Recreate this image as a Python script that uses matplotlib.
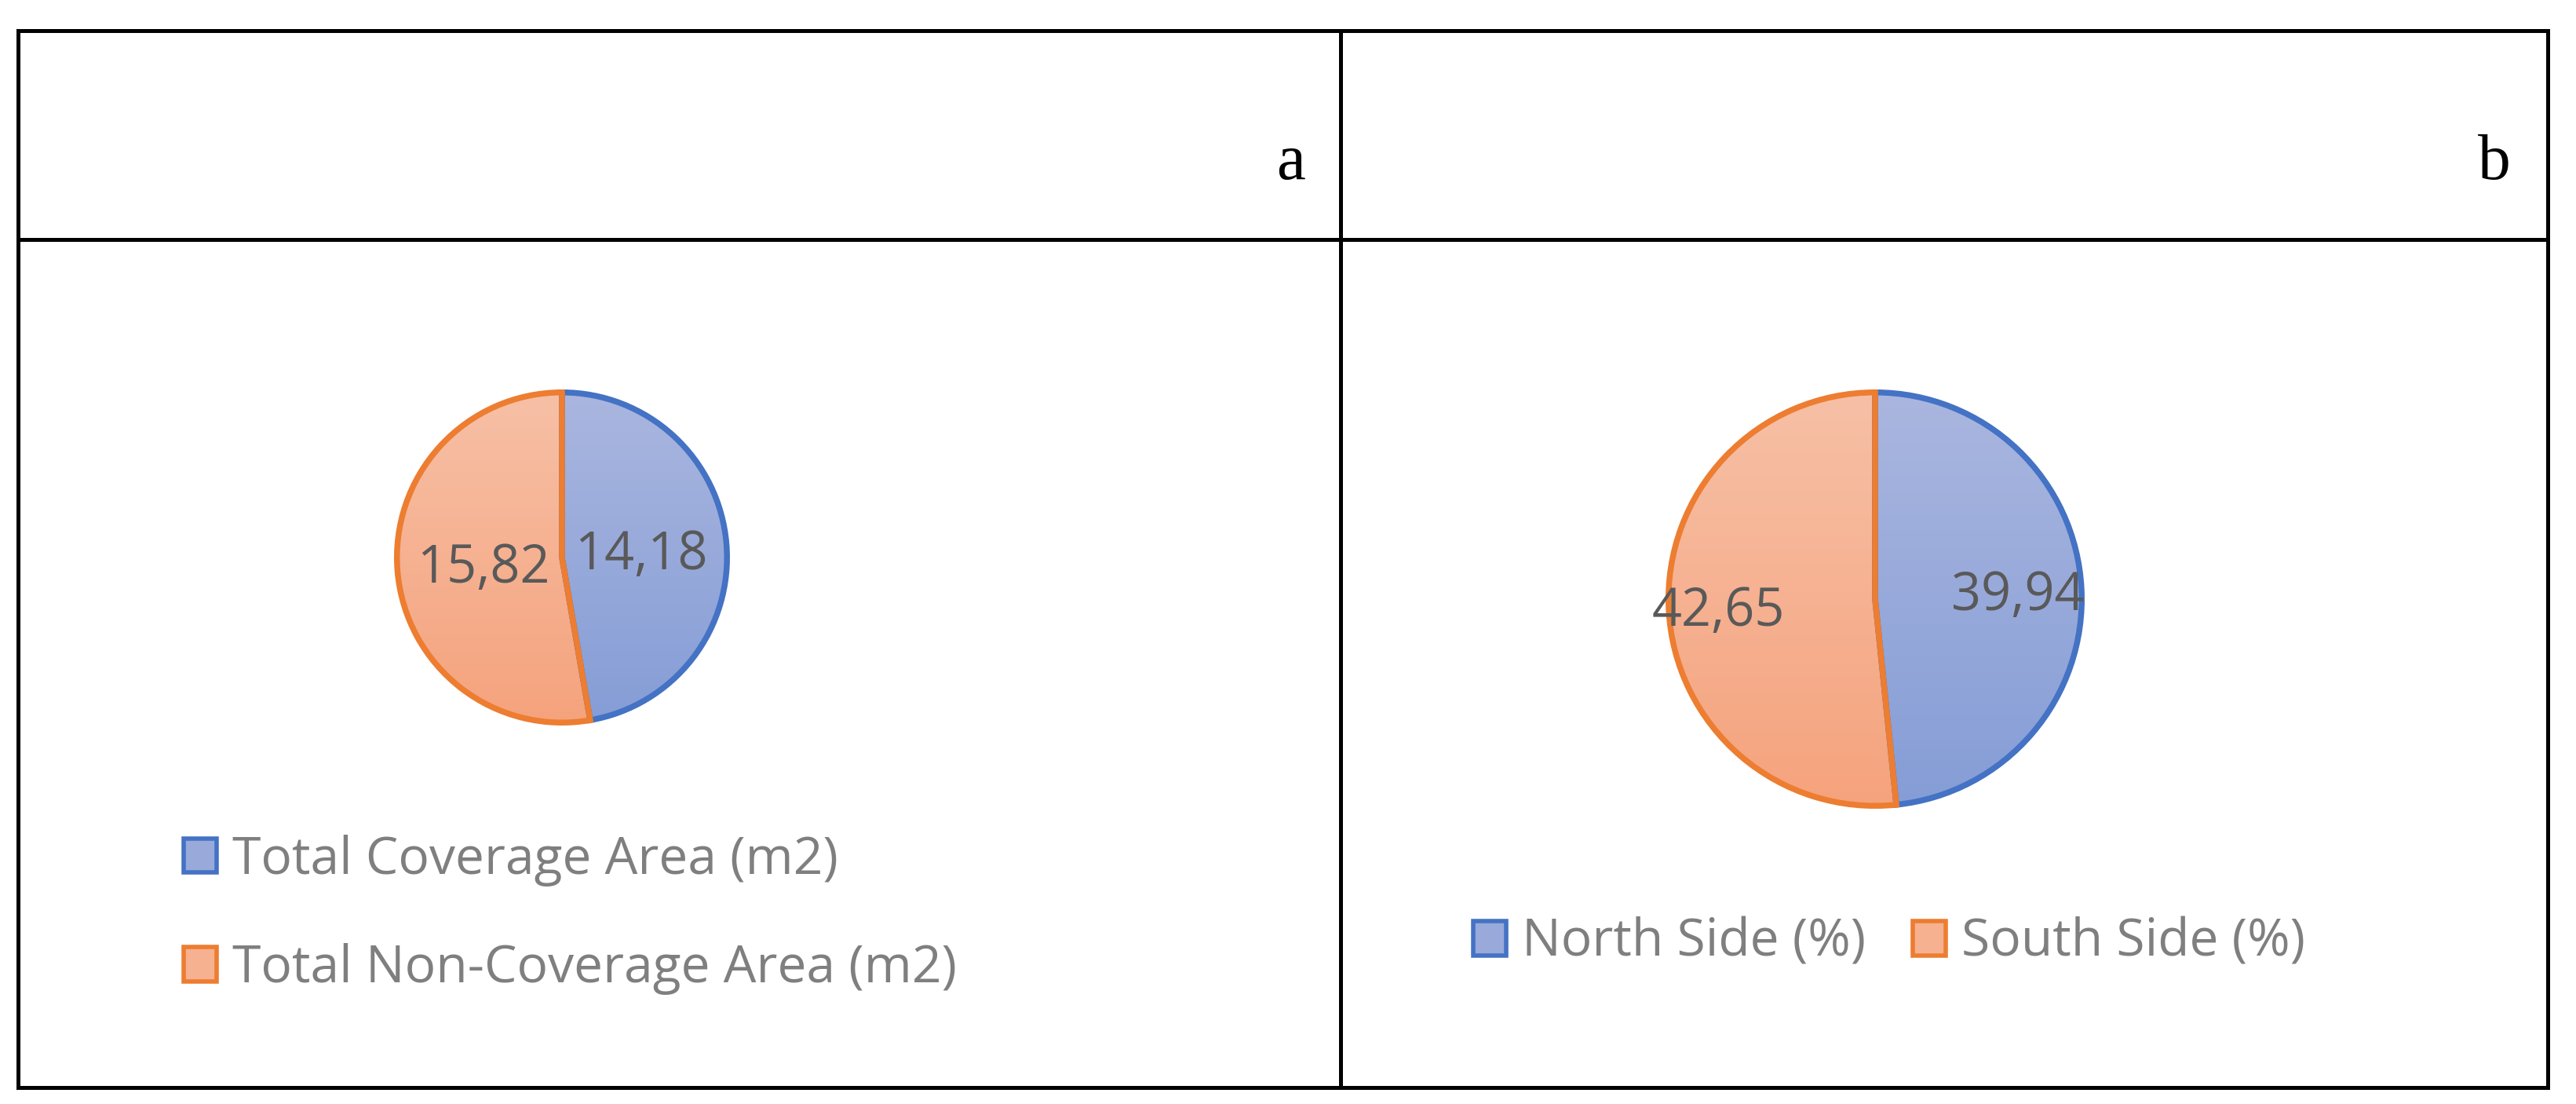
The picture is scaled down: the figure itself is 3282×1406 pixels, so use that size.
import numpy as np
import matplotlib.pyplot as plt
from matplotlib.colors import LinearSegmentedColormap
from matplotlib.lines import Line2D
from matplotlib.patches import Patch
from matplotlib.transforms import offset_copy

W, H = 3282, 1406

coverage_labels = ['Total Coverage Area (m2)', 'Total Non-Coverage Area (m2)']
coverage_values = [14.18, 15.82]
side_labels = ['North Side (%)', 'South Side (%)']
side_values = [39.94, 42.65]
panel_tags = ['a', 'b']

edge_colors = ['#4472C4', '#ED7D31']
grad_colors = [('#AAB6DF', '#859DD6'), ('#F7C0A6', '#F5A37D')]
mid_colors = ['#98A9DA', '#F6B190']
label_color = '#595959'
legend_color = '#7F7F7F'
font = 'Open Sans'
label_size = 48
legend_size = 47.5

fig = plt.figure(figsize=(W / 100, H / 100), dpi=100)


def fx(px):
    return px / W


def fy(py):
    return 1 - py / H


# table grid
left, right, top, bottom = 22.5, 3245.5, 38.5, 1385
mid_x, mid_y = 1708.5, 304.5
grid = [
    ((left, top), (right, top)),
    ((left, bottom), (right, bottom)),
    ((left, top), (left, bottom)),
    ((right, top), (right, bottom)),
    ((mid_x, top), (mid_x, bottom)),
    ((left, mid_y), (right, mid_y)),
]
for (x0, y0), (x1, y1) in grid:
    fig.add_artist(Line2D([fx(x0), fx(x1)], [fy(y0), fy(y1)], color='black',
                          lw=3.6, solid_capstyle='projecting'))

# panel tags
for tag, tx in zip(panel_tags, [1663, 3199]):
    fig.text(fx(tx), fy(228), tag, ha='right', va='baseline', fontsize=60,
             family='Liberation Serif', color='black')


def fmt(v):
    return f'{v:.2f}'.replace('.', ',')


def draw_pie(cx, cy, r, values, label_dist):
    ax = fig.add_axes([fx(cx - r), fy(cy + r), fx(2 * r), 2 * r / H])
    edge_px = 7.5
    R = 1 - edge_px / 2 / r
    wedges, _ = ax.pie(values, startangle=90, counterclock=False, radius=R,
                       colors=['none', 'none'],
                       wedgeprops=dict(linewidth=5.4, joinstyle='miter'))
    grad = np.linspace(0, 1, 256).reshape(-1, 1)
    for w, ec, (c0, c1) in zip(wedges, edge_colors, grad_colors):
        w.set_edgecolor(ec)
        cmap = LinearSegmentedColormap.from_list('g', [c0, c1])
        im = ax.imshow(grad, extent=(-R, R, -R, R), cmap=cmap, origin='upper',
                       aspect='auto', zorder=0, interpolation='bilinear')
        im.set_clip_path(w)
    # shift baseline down by half the cap height so digits sit centred
    trans = offset_copy(ax.transData, fig=fig, y=-0.714 * label_size / 2,
                        units='points')
    for w, v, d in zip(wedges, values, label_dist):
        ang = np.deg2rad((w.theta1 + w.theta2) / 2)
        ax.text(d * R * np.cos(ang), d * R * np.sin(ang), fmt(v), ha='center',
                va='baseline', fontsize=label_size, color=label_color,
                family=font, transform=trans)
    ax.set_xlim(-1, 1)
    ax.set_ylim(-1, 1)
    ax.axis('off')


draw_pie(716, 710, 214, coverage_values, [0.48, 0.48])
draw_pie(2389, 763, 267, side_values, [0.69, 0.76])

handles = [Patch(facecolor=fc, edgecolor=ec, linewidth=4)
           for fc, ec in zip(mid_colors, edge_colors)]

fig.legend(handles, coverage_labels, loc='center left',
           bbox_to_anchor=(fx(234), fy(1165)), frameon=False, borderpad=0,
           borderaxespad=0, handlelength=0.64, handleheight=0.64,
           handletextpad=0.3, labelspacing=1.1, labelcolor=legend_color,
           prop={'family': font, 'size': legend_size})

fig.legend(handles, side_labels, loc='center left', ncol=2,
           bbox_to_anchor=(fx(1877), fy(1201)), frameon=False, borderpad=0,
           borderaxespad=0, handlelength=0.64, handleheight=0.64,
           handletextpad=0.3, columnspacing=0.9, labelcolor=legend_color,
           prop={'family': font, 'size': legend_size})

fig.savefig('out.png', dpi=100, facecolor='white')
